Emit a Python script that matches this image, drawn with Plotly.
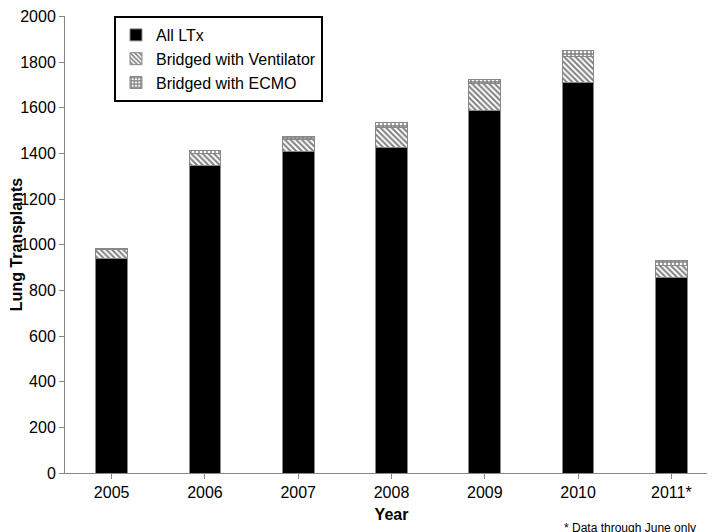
import plotly.graph_objects as go

years = ["2005", "2006", "2007", "2008", "2009", "2010", "2011*"]
all_ltx = [938, 1345, 1410, 1425, 1590, 1710, 855]
ventilator = [42, 55, 52, 90, 115, 115, 55]
ecmo = [5, 12, 13, 22, 20, 27, 23]

fig = go.Figure()
fig.add_bar(x=years, y=all_ltx, name="All LTx", marker=dict(color="black", line=dict(color="#888", width=1)))
fig.add_bar(x=years, y=ventilator, name="Bridged with Ventilator",
            marker=dict(color="white", line=dict(color="#888", width=1),
                        pattern=dict(shape="\\", fgcolor="black", bgcolor="white", size=4, solidity=0.5)))
fig.add_bar(x=years, y=ecmo, name="Bridged with ECMO",
            marker=dict(color="white", line=dict(color="#888", width=1),
                        pattern=dict(shape="+", fgcolor="black", bgcolor="white", size=4, solidity=0.6)))

fig.update_layout(
    barmode="stack", bargap=0.66, width=715, height=532,
    plot_bgcolor="white", paper_bgcolor="white",
    margin=dict(l=57, r=5, t=8, b=67, autoexpand=False),
    font=dict(family="Liberation Sans, Arial", size=16, color="black"),
    legend=dict(x=0.075, y=1.0, xanchor="left", yanchor="top", bordercolor="black", borderwidth=2,
                font=dict(size=16), traceorder="normal", bgcolor="white", itemwidth=30),
    xaxis=dict(title=dict(text="<b>Year</b>", font=dict(size=16), standoff=8), showline=True, linecolor="#888",
               ticks="outside", tickcolor="#888", ticklen=5),
    yaxis=dict(title=dict(text="<b>Lung Transplants</b>", font=dict(size=16)), range=[0, 2002], dtick=200,
               showline=True, linecolor="#888", ticks="outside", tickcolor="#888", ticklen=5, showgrid=False),
    annotations=[dict(text="* Data through June only", x=0.97, y=0, xref="paper", yref="paper",
                      xanchor="right", yanchor="top", yshift=-46, showarrow=False, font=dict(size=12))],
)
fig.write_html("out.html")
